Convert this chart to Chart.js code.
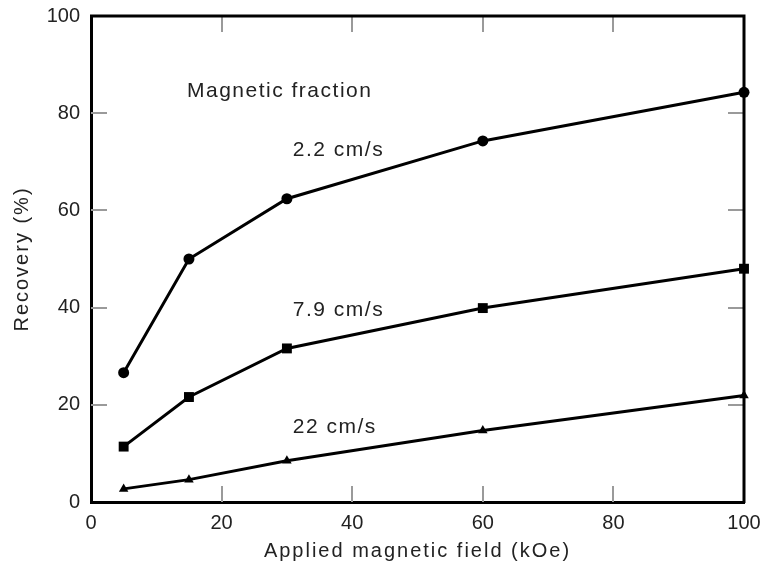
<!DOCTYPE html>
<html>
<head>
<meta charset="utf-8">
<script src="https://cdn.jsdelivr.net/npm/chart.js@4.4.0/dist/chart.umd.min.js"></script>
<style>
html, body { margin: 0; padding: 0; background: #fff; }
#wrap { width: 764px; height: 567px; }
</style>
</head>
<body>
<div id="wrap"><canvas id="graphCanvas"></canvas></div>
<script>
// applied field (kOe) and recovery (%) for each flow velocity
var field = [5, 15, 30, 60, 100];
var rec2_2 = [26.6, 50.0, 62.4, 74.3, 84.3];
var rec7_9 = [11.4, 21.6, 31.6, 39.9, 48.0];
var rec22 = [2.7, 4.6, 8.5, 14.7, 21.9];
var tickValues = [0, 20, 40, 60, 80, 100];

// text written inside the plot, anchored in data units
var notes = ['Magnetic fraction', '2.2 cm/s', '7.9 cm/s', '22 cm/s'];
var noteX = [14.7, 30.9, 30.9, 30.9];
var noteY = [83.4, 71.2, 38.3, 14.1];

var textColor = '#222';
Chart.defaults.font.family = '"Liberation Sans", Arial, Helvetica, sans-serif';
Chart.defaults.color = textColor;

function pts(ys) {
    return field.map(function(x, i) { return { x: x, y: ys[i] }; });
}

function series(label, ys, style, radius) {
    return {
        label: label,
        data: pts(ys),
        borderColor: '#000',
        backgroundColor: '#000',
        borderWidth: 3,
        pointStyle: style,
        pointRadius: radius,
        pointBorderWidth: 0,
        showLine: true,
        clip: false
    };
}

var frame = {
    id: 'frame',
    beforeDraw: function(chart) {
        // axis titles in the original are loosely spaced
        chart.ctx.letterSpacing = '2px';
    },
    beforeDatasetsDraw: function(chart) {
        var ctx = chart.ctx, a = chart.chartArea;
        var xs = chart.scales.x, ys = chart.scales.y;
        ctx.letterSpacing = '0px';
        ctx.save();
        ctx.strokeStyle = '#9a9a9a';
        ctx.lineWidth = 2;
        var len = 16;
        tickValues.forEach(function(v) {
            if (v === 0 || v === 100) return;
            var px = Math.round(xs.getPixelForValue(v));
            var py = Math.round(ys.getPixelForValue(v));
            ctx.beginPath();
            ctx.moveTo(px, a.bottom); ctx.lineTo(px, a.bottom - len);
            ctx.moveTo(px, a.top); ctx.lineTo(px, a.top + len);
            ctx.moveTo(a.left, py); ctx.lineTo(a.left + len, py);
            ctx.moveTo(a.right, py); ctx.lineTo(a.right - len, py);
            ctx.stroke();
        });
        ctx.strokeStyle = '#000';
        ctx.lineWidth = 3;
        ctx.beginPath();
        ctx.moveTo(a.left - 1, a.top);
        ctx.lineTo(a.right, a.top);
        ctx.lineTo(a.right, a.bottom + 1);
        ctx.stroke();
        ctx.restore();
    },
    afterDraw: function(chart) {
        var ctx = chart.ctx;
        var xs = chart.scales.x, ys = chart.scales.y;
        ctx.save();
        ctx.font = '21px "Liberation Sans", Arial, Helvetica, sans-serif';
        ctx.letterSpacing = '1.5px';
        ctx.fillStyle = textColor;
        ctx.textAlign = 'left';
        ctx.textBaseline = 'alphabetic';
        notes.forEach(function(t, i) {
            ctx.fillText(t, xs.getPixelForValue(noteX[i]), ys.getPixelForValue(noteY[i]));
        });
        ctx.restore();
        ctx.letterSpacing = '0px';
    }
};

var graphTarget = document.getElementById('graphCanvas');
var lineGraph = new Chart(graphTarget, {
    type: 'scatter',
    data: {
        datasets: [
            series('2.2 cm/s', rec2_2, 'circle', 5.5),
            series('7.9 cm/s', rec7_9, 'rect', 7),
            series('22 cm/s', rec22, 'triangle', 5.5)
        ]
    },
    options: {
        responsive: true,
        maintainAspectRatio: false,
        animation: false,
        layout: { padding: { top: 16, right: 20, left: 0, bottom: 0 } },
        plugins: {
            legend: { display: false },
            tooltip: { enabled: false }
        },
        scales: {
            x: {
                type: 'linear',
                min: 0,
                max: 100,
                afterFit: function(s) {
                    s.height = 65;
                    s.paddingLeft = 0;
                    s.paddingRight = 0;
                },
                grid: { display: false, drawTicks: false },
                border: { display: true, color: '#000', width: 3 },
                ticks: {
                    stepSize: 20,
                    padding: 9,
                    z: 1,
                    color: textColor,
                    font: { size: 20 }
                },
                title: {
                    display: true,
                    text: 'Applied magnetic field (kOe)',
                    color: textColor,
                    font: { size: 20 },
                    padding: { top: 0, bottom: 4 }
                }
            },
            y: {
                type: 'linear',
                min: 0,
                max: 100,
                afterFit: function(s) {
                    s.width = 91;
                    s.paddingTop = 0;
                    s.paddingBottom = 0;
                },
                grid: { display: false, drawTicks: false },
                border: { display: true, color: '#000', width: 3 },
                ticks: {
                    stepSize: 20,
                    padding: 11,
                    z: 1,
                    color: textColor,
                    font: { size: 20 }
                },
                title: {
                    display: true,
                    text: 'Recovery (%)',
                    color: textColor,
                    font: { size: 20 },
                    padding: { top: 10, bottom: 0 }
                }
            }
        }
    },
    plugins: [frame]
});
</script>
</body>
</html>
